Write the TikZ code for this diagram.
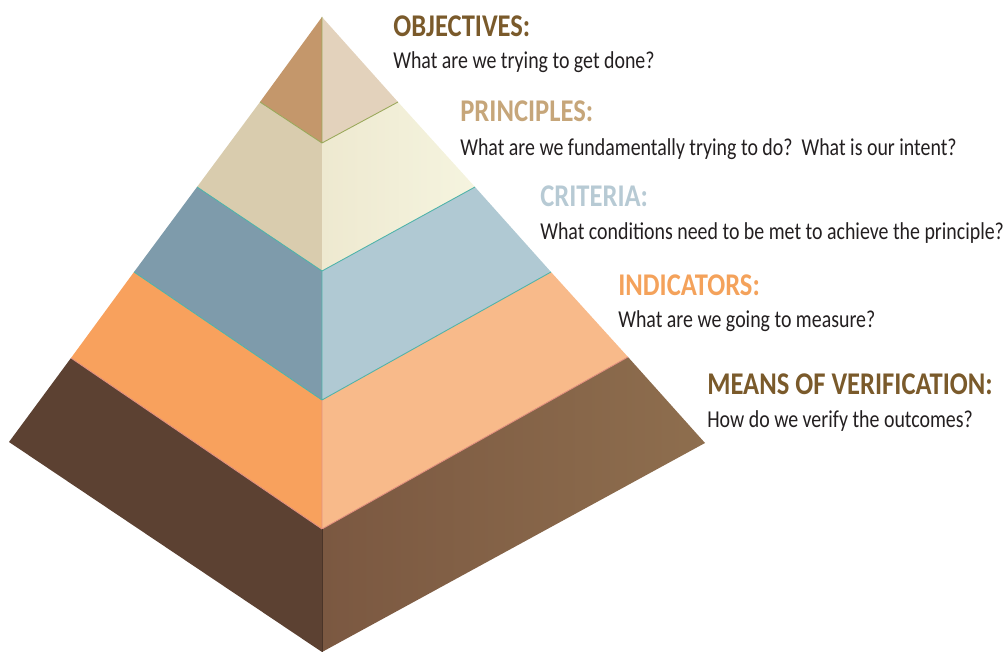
\documentclass[tikz,border=0pt]{standalone}
\usepackage{fontspec}
\setmainfont[FakeStretch=0.84]{Carlito}
\newfontfamily\askfont[FakeStretch=0.82]{Carlito}

\definecolor{objL}{HTML}{C4976B}
\definecolor{objR}{HTML}{E3D2BC}
\definecolor{prinL}{HTML}{D9CCAE}
\definecolor{prinR}{HTML}{EEE9D0}
\definecolor{prinRR}{HTML}{F5F4DF}
\definecolor{critL}{HTML}{7E9BAB}
\definecolor{critR}{HTML}{B0C9D3}
\definecolor{indL}{HTML}{F8A15D}
\definecolor{indR}{HTML}{F8BA8A}
\definecolor{meanL}{HTML}{5C4132}
\definecolor{meanR}{HTML}{7B5841}
\definecolor{meanRR}{HTML}{8E6E4E}
\definecolor{objC}{HTML}{7A5A2B}
\definecolor{prinC}{HTML}{C6A67A}
\definecolor{critC}{HTML}{B7CAD4}
\definecolor{indC}{HTML}{F4A25B}
\definecolor{ink}{HTML}{231F20}
\definecolor{olive}{HTML}{9AA85A}
\definecolor{teal}{HTML}{4FB3A9}
\definecolor{rose}{HTML}{E3907F}

\tikzset{
  head/.style={anchor=base west, inner sep=0pt, font=\fontsize{18}{20}\selectfont\bfseries},
  ask/.style={anchor=base west, inner sep=0pt, text=ink, font=\askfont\fontsize{13.8}{16}\selectfont},
  seam/.style={line width=0.5pt, line join=round},
}

\begin{document}
\begin{tikzpicture}[x=0.02cm,y=-0.02cm]
\useasboundingbox (0,0) rectangle (1005,652);

% corners of the layers
\coordinate (top) at (322,17);
\coordinate (l1) at (260,102); \coordinate (c1) at (322,143); \coordinate (r1) at (398,102);
\coordinate (l2) at (197,187); \coordinate (c2) at (322,271); \coordinate (r2) at (475,187);
\coordinate (l3) at (134,272); \coordinate (c3) at (322,400); \coordinate (r3) at (551,272);
\coordinate (l4) at (71,358);  \coordinate (c4) at (322,529); \coordinate (r4) at (628,357);
\coordinate (l5) at (9,442);   \coordinate (c5) at (322,652); \coordinate (r5) at (705,443);

% faces
\fill[objL] (top) -- (l1) -- (c1) -- cycle;
\fill[objR] (top) -- (c1) -- (r1) -- cycle;
\fill[prinL] (l1) -- (c1) -- (c2) -- (l2) -- cycle;
\shade[left color=prinR, right color=prinRR] (c1) -- (r1) -- (r2) -- (c2) -- cycle;
\fill[critL] (l2) -- (c2) -- (c3) -- (l3) -- cycle;
\fill[critR] (c2) -- (r2) -- (r3) -- (c3) -- cycle;
\fill[indL] (l3) -- (c3) -- (c4) -- (l4) -- cycle;
\fill[indR] (c3) -- (r3) -- (r4) -- (c4) -- cycle;
\fill[meanL] (l4) -- (c4) -- (c5) -- (l5) -- cycle;
\shade[left color=meanR, right color=meanRR] (c4) -- (r4) -- (r5) -- (c5) -- cycle;

% thin seams
\draw[seam, olive] (top) -- (c1) (l1) -- (c1) -- (r1);
\draw[seam, teal] (l2) -- (c2) -- (r2) (c2) -- (c3) (l3) -- (c3) -- (r3);
\draw[seam, rose] (c3) -- (c4) (l4) -- (c4) -- (r4);
\draw[seam, meanL!80!black] (c4) -- (c5);

% labels
\node[head, text=objC] (obj) at (393,37) {OBJECTIVES:};
\node[ask] (objq) at (393,69) {What are we trying to get done?};
\node[head, text=prinC] (prin) at (460,122) {PRINCIPLES:};
\node[ask] (prinq) at (460,155) {What are we fundamentally trying to do?\ \ What is our intent?};
\node[head, text=critC] (crit) at (540,207) {CRITERIA:};
\node[ask] (critq) at (540,239) {What conditions need to be met to achieve the principle?};
\node[head, text=indC] (ind) at (618,296) {INDICATORS:};
\node[ask] (indq) at (618,327) {What are we going to measure?};
\node[head, text=objC] (mean) at (707,394) {MEANS OF VERIFICATION:};
\node[ask] (meanq) at (707,427) {How do we verify the outcomes?};
\end{tikzpicture}
\end{document}
